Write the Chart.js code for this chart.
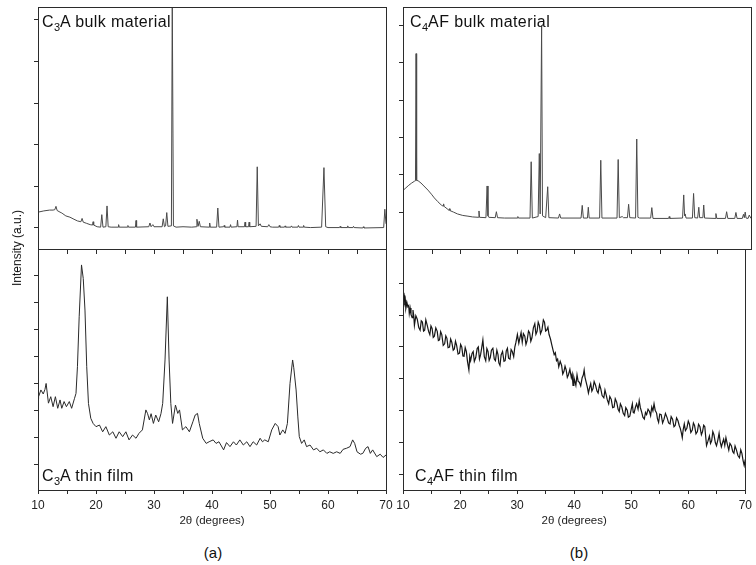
<!DOCTYPE html>
<html>
<head>
<meta charset="utf-8">
<script src="https://cdn.jsdelivr.net/npm/chart.js@4.4.1/dist/chart.umd.min.js"></script>
<style>
  body { margin: 0; background: #fff; font-family: 'Liberation Sans', Arial, sans-serif; }
  #wrap { position: relative; width: 756px; height: 565px; overflow: hidden; }
  #wrap canvas { position: absolute; }
  .ttl { position: absolute; font-size: 16px; letter-spacing: 0.4px; line-height: 16px; color: #111; white-space: nowrap; }
  .ttl span { font-size: 11px; position: relative; top: 4px; letter-spacing: 0; }
  .cap { position: absolute; font-size: 15px; color: #111; transform: translate(-50%, -50%); }
  .ylab { position: absolute; left: 17px; top: 248px; font-size: 12px; color: #111; white-space: nowrap; transform: translate(-50%, -50%) rotate(-90deg); }
</style>
</head>
<body>
<div id="wrap">
  <canvas id="c3aBulk"  width="400" height="256" style="left:0;top:0"></canvas>
  <canvas id="c3aFilm"  width="400" height="290" style="left:0;top:240px"></canvas>
  <canvas id="c4afBulk" width="368" height="256" style="left:388px;top:0"></canvas>
  <canvas id="c4afFilm" width="368" height="290" style="left:388px;top:240px"></canvas>

  <div class="ttl" style="left:42px;top:14px">C<span>3</span>A bulk material</div>
  <div class="ttl" style="left:410px;top:14px">C<span>4</span>AF bulk material</div>
  <div class="ttl" style="left:42px;top:468px">C<span>3</span>A thin film</div>
  <div class="ttl" style="left:415px;top:468px">C<span>4</span>AF thin film</div>
  <div class="ylab">Intensity (a.u.)</div>
  <div class="cap" style="left:213px;top:552px">(a)</div>
  <div class="cap" style="left:579px;top:552px">(b)</div>
</div>

<script>
// ── Axis ticks ────────────────────────────────────────────────────────────
const xTicks = [10, 15, 20, 25, 30, 35, 40, 45, 50, 55, 60, 65, 70]
const xTickLabels = ['10', '', '20', '', '30', '', '40', '', '50', '', '60', '', '70']
const xTitle = '2θ (degrees)'

// ── C3A bulk material (2θ, intensity a.u.) ────────────────────────────────
const c3aBulkTheta = [10.0, 11.0, 12.0, 12.6, 12.9, 13.1, 13.3, 13.8, 14.1, 14.3, 14.8, 15.5, 16.2, 16.8, 17.4, 17.6, 17.8, 18.4, 19.0, 19.4, 19.5, 19.6, 20.2, 20.8, 21.0, 21.2, 21.7, 21.9, 22.1, 22.6, 23.8, 23.9, 24.0, 25.4, 25.5, 25.6, 26.8, 26.9, 27.0, 29.1, 29.3, 29.5, 29.8, 30.0, 31.4, 31.6, 31.8, 32.0, 32.2, 32.4, 33.0, 33.15, 33.35, 33.8, 35.0, 36.5, 37.3, 37.4, 37.6, 37.8, 38.0, 39.5, 39.6, 39.7, 40.8, 41.0, 41.2, 42.0, 42.1, 42.2, 43.1, 43.2, 43.3, 44.3, 44.4, 44.5, 45.6, 45.7, 45.8, 46.3, 46.4, 46.5, 47.6, 47.8, 48.0, 48.3, 48.5, 49.6, 49.8, 50.0, 50.4, 51.5, 51.6, 51.7, 52.5, 52.6, 52.7, 53.6, 53.7, 53.8, 54.8, 54.9, 55.0, 55.7, 55.8, 55.9, 57.0, 58.9, 59.3, 59.6, 60.0, 62.0, 62.1, 62.2, 63.3, 63.4, 63.5, 64.3, 64.4, 64.5, 66.0, 66.1, 66.2, 69.6, 69.8, 70.0]
const c3aBulkInt   = [0.38, 0.41, 0.43, 0.43, 0.44, 0.52, 0.42, 0.38, 0.36, 0.34, 0.29, 0.26, 0.21, 0.17, 0.15, 0.23, 0.14, 0.11, 0.08, 0.07, 0.15, 0.07, 0.03, 0.02, 0.32, 0.02, 0.03, 0.53, 0.03, 0.02, 0.02, 0.08, 0.02, 0.02, 0.06, 0.02, 0.02, 0.18, 0.02, 0.03, 0.12, 0.03, 0.08, 0.03, 0.03, 0.22, 0.03, 0.05, 0.37, 0.04, 0.05, 5.5, 0.05, 0.02, 0.03, 0.02, 0.03, 0.21, 0.04, 0.16, 0.03, 0.02, 0.12, 0.02, 0.02, 0.48, 0.02, 0.03, 0.06, 0.02, 0.02, 0.08, 0.02, 0.03, 0.19, 0.03, 0.03, 0.14, 0.03, 0.03, 0.14, 0.03, 0.04, 1.47, 0.05, 0.10, 0.04, 0.03, 0.08, 0.03, 0.02, 0.02, 0.06, 0.02, 0.02, 0.05, 0.02, 0.02, 0.05, 0.02, 0.02, 0.06, 0.02, 0.02, 0.06, 0.02, 0.01, 0.02, 1.45, 0.03, 0.01, 0.01, 0.04, 0.01, 0.01, 0.05, 0.01, 0.01, 0.04, 0.01, 0.0, 0.03, 0.0, 0.01, 0.45, 0.1]

// ── C3A thin film ─────────────────────────────────────────────────────────
const c3aFilmTheta = [10.0, 10.1, 10.5, 10.9, 11.2, 11.4, 11.8, 12.2, 12.6, 13.0, 13.4, 13.8, 14.1, 14.5, 14.9, 15.4, 15.8, 16.3, 16.55, 16.8, 17.1, 17.5, 17.8, 18.1, 18.4, 18.7, 19.1, 19.5, 20.0, 20.6, 21.15, 21.7, 22.3, 22.9, 23.45, 24.0, 24.6, 25.15, 25.7, 26.3, 26.9, 27.4, 28.0, 28.6, 28.9, 29.2, 29.5, 29.9, 30.3, 30.8, 31.2, 31.5, 31.9, 32.3, 32.6, 32.9, 33.2, 33.7, 34.1, 34.4, 34.9, 35.5, 36.1, 36.7, 37.1, 37.5, 37.8, 38.4, 39.0, 39.5, 40.2, 40.7, 41.2, 42.0, 42.5, 43.1, 43.7, 44.2, 44.8, 45.4, 46.0, 46.55, 47.1, 47.7, 48.3, 48.7, 49.1, 49.7, 50.3, 50.9, 51.4, 51.7, 52.2, 52.6, 53.0, 53.45, 53.9, 54.1, 54.5, 54.8, 55.05, 55.45, 55.9, 56.3, 56.9, 57.5, 58.05, 58.6, 59.2, 59.8, 60.3, 60.9, 61.5, 62.1, 62.6, 63.2, 63.8, 64.25, 64.6, 65.0, 65.6, 66.0, 66.5, 66.9, 67.3, 67.7, 68.4, 69.0, 69.5, 70.0]
const c3aFilmInt   = [2.45, 2.53, 2.78, 2.63, 2.80, 3.02, 2.29, 2.53, 2.16, 2.53, 2.10, 2.41, 2.10, 2.35, 2.16, 2.35, 2.10, 2.47, 2.65, 3.64, 5.49, 7.41, 6.91, 5.74, 3.64, 2.28, 1.73, 1.54, 1.42, 1.48, 1.23, 1.42, 1.11, 1.23, 0.99, 1.23, 1.05, 1.23, 0.93, 1.11, 0.99, 1.17, 1.30, 2.04, 1.90, 1.67, 1.90, 1.54, 1.85, 1.60, 1.90, 2.28, 3.89, 6.23, 3.89, 2.28, 1.54, 2.22, 1.91, 2.04, 1.30, 1.42, 1.23, 1.60, 1.85, 1.91, 1.54, 0.99, 0.80, 0.86, 0.93, 0.80, 0.86, 0.56, 0.83, 0.68, 0.86, 0.74, 0.93, 0.74, 0.86, 0.68, 0.86, 0.74, 0.99, 0.86, 0.93, 0.86, 1.30, 1.54, 1.42, 1.11, 1.30, 1.17, 1.54, 3.02, 3.89, 3.60, 2.78, 1.78, 1.05, 0.80, 0.93, 0.68, 0.74, 0.56, 0.62, 0.49, 0.56, 0.43, 0.49, 0.43, 0.49, 0.43, 0.58, 0.62, 0.68, 0.93, 0.80, 0.49, 0.40, 0.43, 0.62, 0.68, 0.43, 0.56, 0.31, 0.40, 0.28, 0.37]

// ── C4AF bulk material ────────────────────────────────────────────────────
const c4afBulkTheta = [10.0, 10.5, 11.0, 11.5, 12.0, 12.15, 12.25, 12.35, 12.6, 13.1, 13.6, 14.3, 14.9, 15.4, 16.0, 16.6, 16.9, 17.0, 17.1, 17.6, 17.9, 18.0, 18.1, 18.7, 19.4, 20.3, 21.2, 22.0, 23.0, 23.1, 23.2, 24.3, 24.5, 24.65, 24.8, 25.9, 26.1, 26.3, 27.5, 29.7, 29.8, 29.9, 31.9, 32.1, 32.3, 33.3, 33.5, 33.65, 33.9, 34.05, 34.6, 34.95, 35.15, 36.8, 37.0, 37.2, 40.7, 40.9, 41.1, 41.8, 41.95, 42.1, 43.9, 44.1, 44.3, 46.9, 47.1, 47.3, 47.8, 48.0, 48.7, 48.9, 49.1, 50.1, 50.3, 50.5, 50.8, 52.7, 52.9, 53.1, 55.8, 55.9, 56.0, 58.2, 58.4, 58.55, 58.65, 58.8, 59.9, 60.1, 60.3, 60.8, 61.0, 61.15, 61.7, 61.85, 62.0, 63.8, 63.95, 64.1, 65.6, 65.8, 66.0, 67.2, 67.4, 67.6, 68.5, 68.7, 68.85, 69.0, 69.15, 69.5, 69.7, 70.0]
const c4afBulkInt   = [0.58, 0.65, 0.72, 0.78, 0.83, 0.84, 4.25, 0.85, 0.84, 0.78, 0.70, 0.59, 0.48, 0.38, 0.28, 0.19, 0.16, 0.22, 0.15, 0.09, 0.05, 0.09, 0.04, 0.0, -0.05, -0.09, -0.11, -0.13, -0.14, 0.03, -0.14, -0.15, 0.70, -0.10, -0.14, -0.15, 0.01, -0.15, -0.16, -0.16, -0.12, -0.16, -0.16, 1.35, -0.16, -0.12, 1.57, -0.05, 5.0, -0.10, -0.15, 0.68, -0.15, -0.16, -0.05, -0.16, -0.16, 0.18, -0.16, -0.16, 0.13, -0.16, -0.16, 1.39, -0.16, -0.16, 1.41, -0.15, -0.12, -0.15, -0.15, 0.21, -0.15, -0.16, 1.96, -0.14, -0.16, -0.16, 0.12, -0.17, -0.17, -0.12, -0.17, -0.16, 0.46, -0.10, -0.05, -0.16, -0.16, 0.50, -0.15, -0.16, 0.13, -0.15, -0.15, 0.19, -0.16, -0.17, -0.04, -0.17, -0.17, 0.01, -0.17, -0.17, -0.01, -0.17, -0.17, -0.06, -0.15, 0.0, -0.16, -0.17, -0.08, -0.17]

// ── C4AF thin film (dense noisy trace) ────────────────────────────────────
const c4afFilmTheta = [10.0, 10.05, 10.1, 10.2, 10.3, 10.4, 10.5, 10.7, 10.85, 11.0, 11.1, 11.25, 11.4, 11.6, 11.75, 11.9, 12.0, 12.25, 12.5, 12.75, 13.0, 13.2, 13.4, 13.6, 13.8, 14.0, 14.25, 14.5, 14.7, 14.9, 15.1, 15.3, 15.5, 15.75, 16.0, 16.2, 16.4, 16.6, 16.8, 17.05, 17.3, 17.5, 17.7, 17.9, 18.15, 18.35, 18.55, 18.8, 19.0, 19.2, 19.4, 19.65, 19.9, 20.1, 20.3, 20.5, 20.7, 20.9, 21.1, 21.3, 21.55, 21.7, 21.85, 22.1, 22.3, 22.5, 22.75, 23.0, 23.2, 23.4, 23.6, 23.8, 24.0, 24.25, 24.5, 24.7, 24.9, 25.1, 25.3, 25.5, 25.75, 26.0, 26.2, 26.45, 26.65, 26.8, 27.0, 27.2, 27.45, 27.7, 27.9, 28.1, 28.3, 28.5, 28.75, 28.95, 29.15, 29.4, 29.6, 29.8, 30.05, 30.3, 30.5, 30.7, 30.9, 31.1, 31.35, 31.55, 31.75, 32.0, 32.2, 32.4, 32.6, 32.85, 33.1, 33.3, 33.5, 33.7, 33.9, 34.1, 34.35, 34.6, 34.8, 35.0, 35.2, 35.4, 35.6, 35.85, 36.1, 36.3, 36.5, 36.7, 36.9, 37.1, 37.3, 37.55, 37.8, 38.0, 38.2, 38.4, 38.6, 38.8, 39.0, 39.25, 39.5, 39.65, 39.8, 39.95, 40.1, 40.3, 40.5, 40.7, 40.9, 41.15, 41.4, 41.6, 41.75, 41.9, 42.1, 42.3, 42.5, 42.7, 42.9, 43.1, 43.3, 43.5, 43.75, 44.0, 44.2, 44.45, 44.65, 44.9, 45.2, 45.4, 45.6, 45.8, 46.05, 46.25, 46.5, 46.75, 47.0, 47.2, 47.45, 47.7, 47.9, 48.1, 48.35, 48.6, 48.85, 49.05, 49.3, 49.5, 49.75, 50.0, 50.2, 50.35, 50.5, 50.75, 50.95, 51.2, 51.4, 51.6, 51.8, 52.05, 52.3, 52.5, 52.7, 52.95, 53.2, 53.4, 53.6, 53.8, 54.0, 54.2, 54.45, 54.6, 54.8, 55.0, 55.25, 55.5, 55.75, 56.0, 56.3, 56.55, 56.8, 57.0, 57.25, 57.5, 57.7, 57.95, 58.2, 58.4, 58.6, 58.8, 58.95, 59.1, 59.3, 59.5, 59.75, 60.0, 60.2, 60.45, 60.7, 60.9, 61.1, 61.35, 61.6, 61.8, 62.05, 62.3, 62.5, 62.7, 62.9, 63.05, 63.2, 63.45, 63.7, 63.9, 64.1, 64.3, 64.5, 64.75, 64.95, 65.2, 65.4, 65.6, 65.8, 66.0, 66.2, 66.4, 66.6, 66.85, 67.1, 67.3, 67.55, 67.8, 68.0, 68.2, 68.45, 68.7, 68.97, 69.2, 69.4, 69.6, 69.8, 70.0]
const c4afFilmInt   = [5.69, 5.45, 5.55, 5.62, 5.40, 5.48, 5.21, 5.38, 5.26, 5.30, 5.05, 5.22, 5.02, 4.92, 5.16, 4.95, 4.68, 4.98, 4.87, 4.62, 4.53, 4.82, 4.78, 4.50, 4.53, 4.85, 4.68, 4.48, 4.39, 4.66, 4.58, 4.30, 4.34, 4.60, 4.49, 4.20, 4.22, 4.48, 4.39, 4.05, 4.10, 4.35, 4.27, 3.98, 4.00, 4.25, 4.15, 3.90, 3.94, 4.18, 4.05, 3.78, 3.81, 4.08, 4.00, 3.72, 3.71, 3.98, 3.86, 3.55, 3.28, 3.70, 3.57, 3.80, 3.86, 3.55, 3.67, 3.95, 4.00, 3.62, 3.76, 3.98, 4.22, 3.70, 3.57, 3.95, 3.86, 3.58, 3.67, 3.90, 3.96, 3.62, 3.57, 3.90, 3.76, 3.50, 3.42, 3.75, 3.86, 3.55, 3.57, 3.88, 3.96, 3.65, 3.62, 3.92, 3.86, 3.70, 4.00, 4.15, 4.39, 4.12, 4.29, 4.45, 4.15, 4.42, 4.34, 4.08, 4.20, 4.50, 4.44, 4.18, 4.29, 4.60, 4.73, 4.40, 4.49, 4.78, 4.68, 4.42, 4.53, 4.85, 4.78, 4.50, 4.53, 4.62, 4.39, 4.25, 4.05, 3.90, 3.76, 3.82, 3.57, 3.62, 3.38, 3.55, 3.42, 3.15, 3.23, 3.40, 3.28, 3.05, 3.13, 3.30, 3.04, 3.15, 2.80, 3.05, 2.94, 2.80, 3.13, 2.92, 2.90, 2.78, 3.04, 3.12, 3.28, 3.05, 2.90, 2.75, 2.56, 2.72, 2.85, 2.62, 2.70, 2.92, 2.80, 2.62, 2.56, 2.82, 2.70, 2.48, 2.41, 2.65, 2.51, 2.35, 2.22, 2.45, 2.36, 2.10, 2.12, 2.38, 2.27, 2.05, 1.98, 2.22, 2.12, 1.92, 1.85, 2.10, 2.02, 1.80, 1.83, 2.05, 2.22, 1.95, 1.93, 2.12, 2.22, 2.05, 2.32, 2.10, 1.98, 1.80, 1.74, 1.95, 1.88, 2.05, 1.98, 1.85, 2.12, 2.00, 2.22, 2.02, 1.93, 1.75, 1.64, 1.90, 1.88, 1.62, 1.74, 1.92, 1.78, 1.62, 1.59, 1.82, 1.74, 1.50, 1.54, 1.78, 1.69, 1.55, 1.45, 1.30, 1.16, 1.40, 1.59, 1.38, 1.45, 1.68, 1.59, 1.32, 1.40, 1.62, 1.54, 1.28, 1.35, 1.58, 1.50, 1.25, 1.35, 1.55, 1.50, 1.20, 0.91, 1.05, 1.21, 0.98, 1.06, 1.35, 1.25, 1.00, 0.91, 1.10, 1.30, 1.02, 0.87, 1.00, 1.11, 0.92, 1.16, 0.95, 0.77, 0.98, 0.91, 0.72, 0.67, 0.90, 0.77, 0.60, 0.53, 0.78, 0.67, 0.45, 0.29, 0.48]

// ── Shared helpers ────────────────────────────────────────────────────────
const frameColor = '#2b2b2b'

// draws the closed box plus the inward ticks along the top of the film panels
const framePlugin = {
  id: 'frame',
  afterDraw(chart, args, opts) {
    const { ctx, chartArea: a, scales } = chart
    ctx.save()
    ctx.strokeStyle = frameColor
    ctx.lineWidth = 1
    ctx.strokeRect(Math.round(a.left) + 0.5, Math.round(a.top) + 0.5, Math.round(a.right - a.left), Math.round(a.bottom - a.top))
    if (opts.topTicks) {
      ctx.beginPath()
      xTicks.forEach(v => {
        const px = Math.round(scales.x.getPixelForValue(v)) + 0.5
        ctx.moveTo(px, a.top)
        ctx.lineTo(px, a.top + 5)
      })
      ctx.stroke()
    }
    ctx.restore()
  }
}

function makePanel(id, theta, inten, o) {
  const points = theta.map((t, i) => ({ x: t, y: inten[i] }))
  return new Chart(document.getElementById(id), {
    type: 'line',
    data: {
      datasets: [{
        data: points,
        borderColor: o.color,
        borderWidth: o.lineWidth,
        pointRadius: 0,
        tension: 0,
        fill: false
      }]
    },
    options: {
      responsive: false,
      animation: false,
      events: [],
      layout: { padding: o.padding },
      plugins: {
        legend: { display: false },
        tooltip: { enabled: false },
        frame: { topTicks: o.film }
      },
      scales: {
        x: {
          type: 'linear',
          min: 10,
          max: 70,
          display: o.film,
          afterBuildTicks: s => { s.ticks = xTicks.map(v => ({ value: v })) },
          afterFit: s => { s.height = o.film ? 40 : 0 },
          border: { color: frameColor },
          grid: { drawOnChartArea: false, tickLength: 4, color: frameColor },
          ticks: {
            autoSkip: false,
            maxRotation: 0,
            padding: 4,
            color: '#222',
            font: { family: "'Liberation Sans', Arial, sans-serif", size: 12 },
            callback: (v, i) => xTickLabels[i]
          },
          title: {
            display: true,
            text: xTitle,
            color: '#222',
            padding: { top: 0, bottom: 2 },
            font: { family: "'Liberation Sans', Arial, sans-serif", size: 11.5 }
          }
        },
        y: {
          min: o.yMin,
          max: o.yMax,
          afterBuildTicks: s => { s.ticks = o.yTicks.map(v => ({ value: v })) },
          afterFit: s => { s.width = o.yWidth },
          border: { color: frameColor },
          grid: { drawOnChartArea: false, tickLength: 4, color: frameColor },
          ticks: { display: false }
        }
      }
    },
    plugins: [framePlugin]
  })
}

// ── Panels ────────────────────────────────────────────────────────────────
makePanel('c3aBulk', c3aBulkTheta, c3aBulkInt, {
  color: '#4a4a4a', lineWidth: 1, film: false, yWidth: 38,
  yMin: -0.505, yMax: 5.31, yTicks: [0, 1, 2, 3, 4, 5],
  padding: { top: 7, right: 14, bottom: 7, left: 0 }
})
makePanel('c3aFilm', c3aFilmTheta, c3aFilmInt, {
  color: '#2a2a2a', lineWidth: 1, film: true, yWidth: 38,
  yMin: -0.926, yMax: 8.0, yTicks: [0, 1, 2, 3, 4, 5, 6, 7],
  padding: { top: 9, right: 14, bottom: 0, left: 0 }
})
makePanel('c4afBulk', c4afBulkTheta, c4afBulkInt, {
  color: '#4a4a4a', lineWidth: 1, film: false, yWidth: 15,
  yMin: -0.99, yMax: 5.5, yTicks: [0, 1, 2, 3, 4, 5],
  padding: { top: 7, right: 5, bottom: 7, left: 0 }
})
makePanel('c4afFilm', c4afFilmTheta, c4afFilmInt, {
  color: '#161616', lineWidth: 1.2, film: true, yWidth: 15,
  yMin: -0.48, yMax: 7.07, yTicks: [0, 1, 2, 3, 4, 5, 6],
  padding: { top: 9, right: 5, bottom: 0, left: 0 }
})
</script>
</body>
</html>
